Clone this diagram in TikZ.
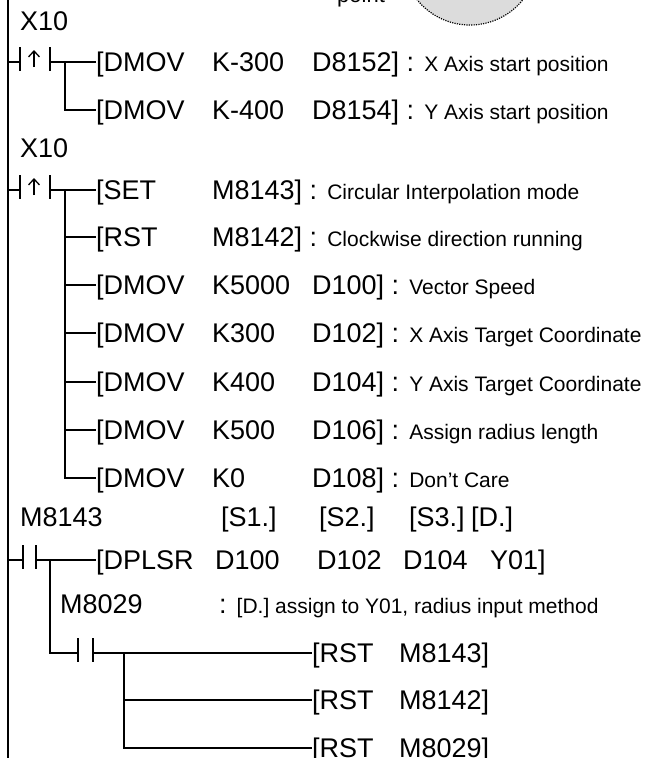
\documentclass[tikz,border=0pt]{standalone}
\usepackage{fontspec}
\setmainfont{Liberation Sans}
\usepackage{tikz}
\usetikzlibrary{arrows.meta}
\definecolor{ptgray}{RGB}{220,220,220}
\newcommand{\mainfs}{\fontsize{27}{30}\selectfont}
\newcommand{\notefs}{\fontsize{21}{25}\selectfont}
\newcommand{\opc}[2]{\makebox[#1][l]{#2}}

\begin{document}
\begin{tikzpicture}[x=1pt, y=-1pt]
\tikzstyle{wire}=[line width=2pt]
\tikzstyle{edge}=[line width=1.3pt, -{Straight Barb[length=6pt, width=11pt]}]
\tikzstyle{instr}=[anchor=west, inner sep=0pt, text height=19pt, text depth=0pt, font=\mainfs]
\useasboundingbox (0,0) rectangle (645,758);
\clip (0,0) rectangle (645,758);

% circle and label cut by the top edge
\draw[fill=ptgray, line width=1.2pt, dash pattern=on 1.2pt off 1.2pt] (470,-43) circle (68pt);
\node[anchor=base west, inner sep=0pt, font=\fontsize{22}{26}\selectfont] (pt) at (337,2.5) {point};

% left rail
\coordinate (top) at (8,0);
\coordinate (bot) at (8,760);
\draw[wire] (top) -- (bot);

% rung 1
\node[instr] (x10a) at (20,21) {X10};
\coordinate (r1) at (8,62);
\coordinate (c1a) at (20,62);
\coordinate (c1b) at (50,62);
\coordinate (b1) at (65,62);
\node[instr] (i1) at (96,62) {\opc{116pt}{[DMOV}\opc{100pt}{K-300}D8152] : {\notefs X Axis start position}};
\node[instr] (i2) at (96,110) {\opc{116pt}{[DMOV}\opc{100pt}{K-400}D8154] : {\notefs Y Axis start position}};
\draw[wire] (r1) -- (c1a);
\draw[wire] ([yshift=15pt]c1a) -- ([yshift=-9pt]c1a);
\draw[wire] ([yshift=15pt]c1b) -- ([yshift=-9pt]c1b);
\draw[edge] ([xshift=14pt, yshift=-5pt]c1a) -- ([xshift=14pt, yshift=12pt]c1a);
\draw[wire] (c1b) -- (i1.west);
\draw[wire] (b1) |- (i2.west);

% rung 2
\node[instr] (x10b) at (20,148) {X10};
\coordinate (r2) at (8,190);
\coordinate (c2a) at (20,190);
\coordinate (c2b) at (50,190);
\coordinate (b2) at (65,190);
\node[instr] (i3) at (96,190) {\opc{116pt}{[SET}M8143] : {\notefs Circular Interpolation mode}};
\node[instr] (i4) at (96,237) {\opc{116pt}{[RST}M8142] : {\notefs Clockwise direction running}};
\node[instr] (i5) at (96,285) {\opc{116pt}{[DMOV}\opc{100pt}{K5000}D100] : {\notefs Vector Speed}};
\node[instr] (i6) at (96,333) {\opc{116pt}{[DMOV}\opc{100pt}{K300}D102] : {\notefs X Axis Target Coordinate}};
\node[instr] (i7) at (96,382) {\opc{116pt}{[DMOV}\opc{100pt}{K400}D104] : {\notefs Y Axis Target Coordinate}};
\node[instr] (i8) at (96,430) {\opc{116pt}{[DMOV}\opc{100pt}{K500}D106] : {\notefs Assign radius length}};
\node[instr] (i9) at (96,478) {\opc{116pt}{[DMOV}\opc{100pt}{K0}D108] : {\notefs Don’t Care}};
\draw[wire] (r2) -- (c2a);
\draw[wire] ([yshift=15pt]c2a) -- ([yshift=-9pt]c2a);
\draw[wire] ([yshift=15pt]c2b) -- ([yshift=-9pt]c2b);
\draw[edge] ([xshift=14pt, yshift=-5pt]c2a) -- ([xshift=14pt, yshift=12pt]c2a);
\draw[wire] (c2b) -- (i3.west);
\draw[wire] (b2) |- (i4.west);
\draw[wire] (b2) |- (i5.west);
\draw[wire] (b2) |- (i6.west);
\draw[wire] (b2) |- (i7.west);
\draw[wire] (b2) |- (i8.west);
\draw[wire] (b2) |- (i9.west);

% rung 3
\node[instr] (m8143) at (20,517) {M8143};
\node[instr] (s1) at (221,517) {[S1.]};
\node[instr] (s2) at (319,517) {[S2.]};
\node[instr] (s3) at (409,517) {[S3.]};
\node[instr] (dd) at (471,517) {[D.]};
\coordinate (r3) at (8,560);
\coordinate (c3a) at (23,560);
\coordinate (c3b) at (36,560);
\coordinate (b3) at (50,560);
\node[instr] (i10) at (96,560) {\opc{119pt}{[DPLSR}\opc{102pt}{D100}\opc{86pt}{D102}\opc{87pt}{D104}Y01]};
\draw[wire] (r3) -- (c3a);
\draw[wire] ([yshift=15pt]c3a) -- ([yshift=-9pt]c3a);
\draw[wire] ([yshift=15pt]c3b) -- ([yshift=-9pt]c3b);
\draw[wire] (c3b) -- (i10.west);

\node[instr] (m8029) at (60,604) {M8029};
\node[instr] (n1) at (219,604) {: {\notefs [D.] assign to Y01, radius input method}};
\coordinate (c4a) at (78,653);
\coordinate (c4b) at (93,653);
\coordinate (b4) at (124,653);
\node[instr] (k1) at (312,653) {\opc{87pt}{[RST}M8143]};
\node[instr] (k2) at (312,700) {\opc{87pt}{[RST}M8142]};
\node[instr] (k3) at (312,748) {\opc{87pt}{[RST}M8029]};
\draw[wire] (b3) |- (c4a);
\draw[wire] ([yshift=15pt]c4a) -- ([yshift=-9pt]c4a);
\draw[wire] ([yshift=15pt]c4b) -- ([yshift=-9pt]c4b);
\draw[wire] (c4b) -- (k1.west);
\draw[wire] (b4) |- (k2.west);
\draw[wire] (b4) |- (k3.west);
\end{tikzpicture}
\end{document}
